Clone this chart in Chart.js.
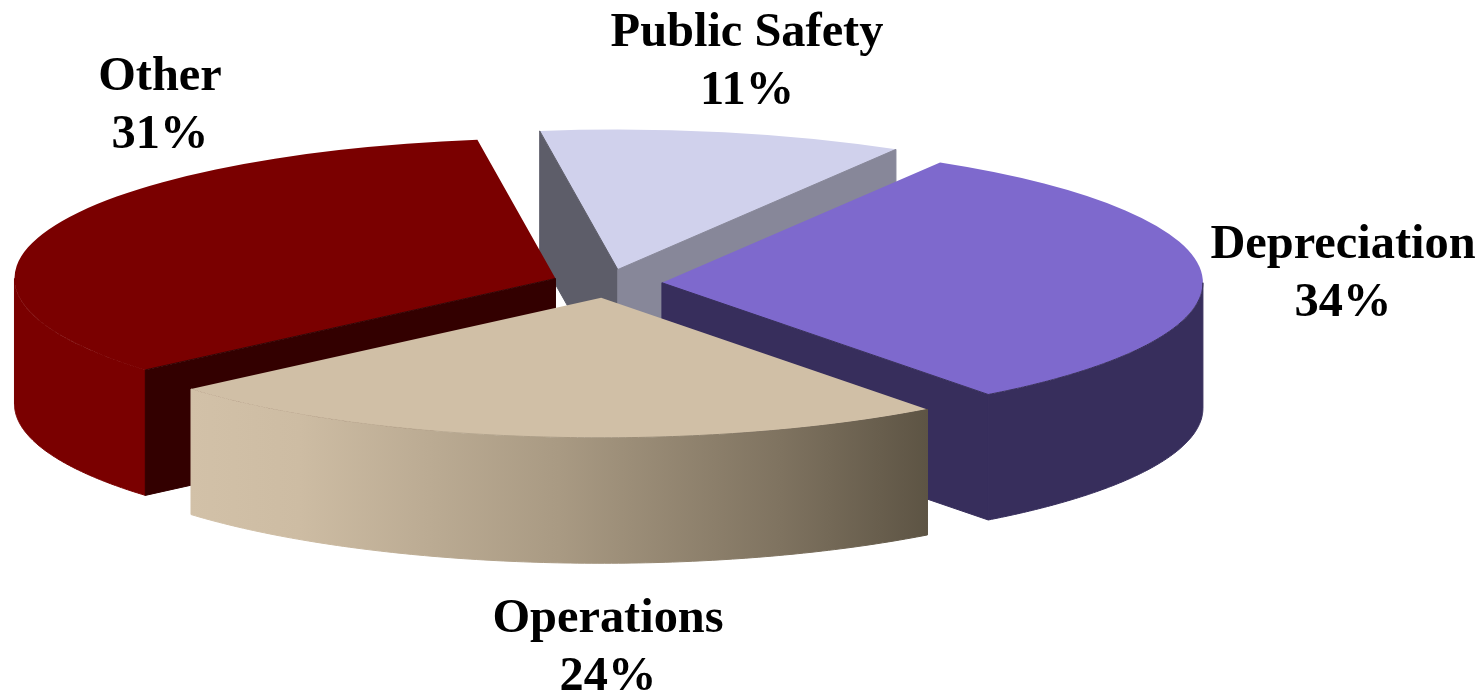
<!DOCTYPE html>
<html>
<head>
<meta charset="utf-8">
<title>Expense pie</title>
<script src="https://cdn.jsdelivr.net/npm/chart.js@4/dist/chart.umd.min.js"></script>
<style>
  html, body { margin: 0; padding: 0; background: #fff; }
  #wrap { width: 1483px; height: 694px; overflow: hidden; }
</style>
</head>
<body>
<div id="wrap"><canvas id="pieChart" width="1483" height="694"></canvas></div>
<script>
const categories = ['Public Safety', 'Depreciation', 'Operations', 'Other'];
const printedPercents = ['11%', '34%', '24%', '31%'];
// slice sizes as measured from the drawn angles; the picture's Depreciation and Other
// wedges do not agree with their printed percentages
const sliceShares = [10.9, 31.1, 24, 34];

const topColors = ['#d0d1ec', '#7e69cd', '#d0bfa6', '#7a0000'];
// null means the face points away from the viewer, so it is skipped
const rimColors = [null, '#372e5c', 'gradient', '#7a0000'];
const startWallColors = ['#5d5d69', null, null, '#330000'];
const endWallColors = ['#878799', '#372e5c', null, null];
const paintOrder = [0, 1, 3, 2];

const SQUASH = 0.259;
const CENTER_Y = 283.5;
const EXPLODE = 55;
const DEPTH = 125.5;

const labelSpots = [[747, 33], [1343, 245], [608, 619], [160, 77]];
const LINE_GAP = 58;

function rimPoint(arc, angle) {
  const mid = (arc.startAngle + arc.endAngle) / 2;
  return {
    x: arc.x + Math.cos(mid) * EXPLODE + Math.cos(angle) * arc.outerRadius,
    y: CENTER_Y + (Math.sin(mid) * EXPLODE + Math.sin(angle) * arc.outerRadius) * SQUASH
  };
}

function apexPoint(arc) {
  const mid = (arc.startAngle + arc.endAngle) / 2;
  return { x: arc.x + Math.cos(mid) * EXPLODE, y: CENTER_Y + Math.sin(mid) * EXPLODE * SQUASH };
}

// fill plus a thin stroke of the same colour, so faces meet without a seam
function paintPath(ctx, color) {
  ctx.fillStyle = color;
  ctx.strokeStyle = color;
  ctx.lineWidth = 1;
  ctx.lineJoin = 'round';
  ctx.fill();
  ctx.stroke();
}

function fillWall(ctx, a, b, color) {
  ctx.beginPath();
  ctx.moveTo(a.x, a.y);
  ctx.lineTo(b.x, b.y);
  ctx.lineTo(b.x, b.y + DEPTH);
  ctx.lineTo(a.x, a.y + DEPTH);
  ctx.closePath();
  paintPath(ctx, color);
}

// only the front half of the ellipse (angles 0 to PI) shows a rim
function fillRim(ctx, arc, color) {
  const from = Math.max(arc.startAngle, 0);
  const to = Math.min(arc.endAngle, Math.PI);
  if (to <= from) return;
  const steps = 120;
  ctx.beginPath();
  for (let i = 0; i <= steps; i++) {
    const p = rimPoint(arc, from + (to - from) * i / steps);
    if (i === 0) ctx.moveTo(p.x, p.y); else ctx.lineTo(p.x, p.y);
  }
  for (let i = steps; i >= 0; i--) {
    const p = rimPoint(arc, from + (to - from) * i / steps);
    ctx.lineTo(p.x, p.y + DEPTH);
  }
  ctx.closePath();
  paintPath(ctx, color);
}

function operationsGradient(ctx) {
  const g = ctx.createLinearGradient(189, 0, 928, 0);
  g.addColorStop(0, '#d2c1a8');
  g.addColorStop(0.15, '#cdbca3');
  g.addColorStop(0.5, '#a99a83');
  g.addColorStop(0.8, '#7f7360');
  g.addColorStop(1, '#5d5444');
  return g;
}

const squashedPie = {
  id: 'squashedPie',
  beforeDatasetsDraw(chart) {
    const ctx = chart.ctx;
    const arcs = chart.getDatasetMeta(0).data;
    paintOrder.forEach(i => {
      const arc = arcs[i];
      const apex = apexPoint(arc);

      const mid = (arc.startAngle + arc.endAngle) / 2;
      ctx.save();
      ctx.translate(arc.x, CENTER_Y);
      ctx.scale(1, SQUASH);
      ctx.translate(Math.cos(mid) * EXPLODE, Math.sin(mid) * EXPLODE);
      ctx.translate(-arc.x, -arc.y);
      arc.draw(ctx);
      ctx.restore();

      if (rimColors[i]) {
        fillRim(ctx, arc, rimColors[i] === 'gradient' ? operationsGradient(ctx) : rimColors[i]);
      }
      if (startWallColors[i]) fillWall(ctx, apex, rimPoint(arc, arc.startAngle), startWallColors[i]);
      if (endWallColors[i]) fillWall(ctx, apex, rimPoint(arc, arc.endAngle), endWallColors[i]);
    });
    return false;
  },
  afterDraw(chart) {
    const ctx = chart.ctx;
    ctx.save();
    ctx.fillStyle = '#000';
    ctx.font = 'bold 48.4px "Liberation Serif"';
    ctx.textAlign = 'center';
    ctx.textBaseline = 'middle';
    categories.forEach((name, i) => {
      const [x, y] = labelSpots[i];
      ctx.fillText(name, x, y);
      ctx.fillText(printedPercents[i], x, y + LINE_GAP);
    });
    ctx.restore();
  }
};

new Chart(document.getElementById('pieChart').getContext('2d'), {
  type: 'pie',
  data: {
    labels: categories,
    datasets: [{
      data: sliceShares,
      backgroundColor: topColors,
      borderWidth: 0
    }]
  },
  options: {
    responsive: false,
    animation: false,
    rotation: -8.3,
    radius: 541,
    layout: { padding: { right: 269 } },
    plugins: { legend: { display: false }, tooltip: { enabled: false } }
  },
  plugins: [squashedPie]
});
</script>
</body>
</html>
